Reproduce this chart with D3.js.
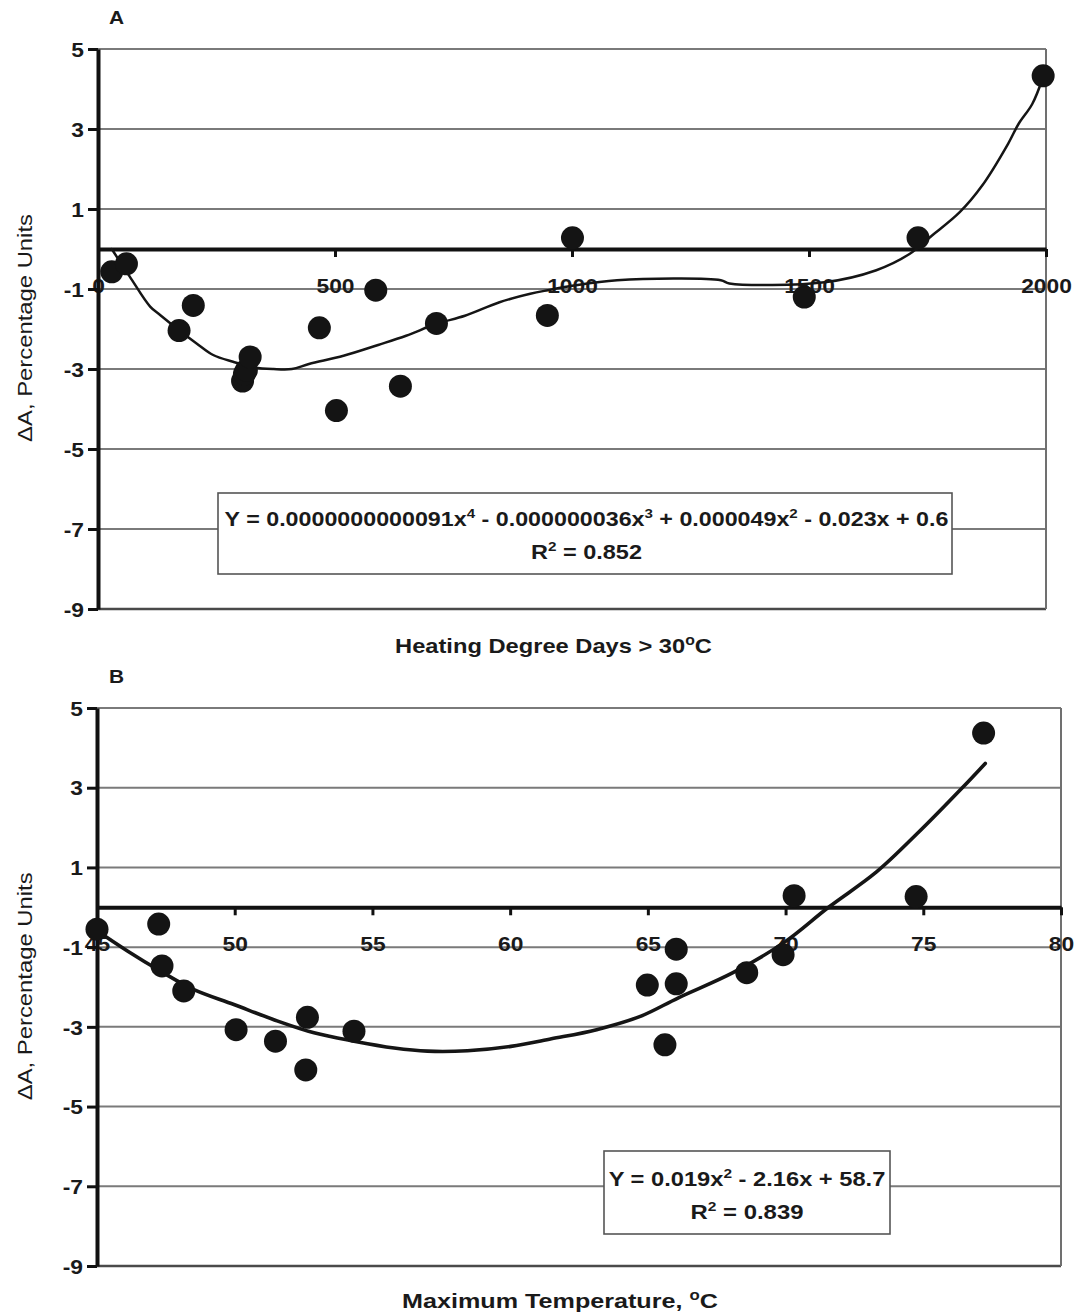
<!DOCTYPE html>
<html>
<head>
<meta charset="utf-8">
<script src="https://cdn.jsdelivr.net/npm/d3@7"></script>
<style>
  html, body { margin: 0; padding: 0; background: #fff; }
  svg { display: block; }
  text { font-family: "Liberation Sans", Arial, sans-serif; fill: #1a1a1a; }
</style>
</head>
<body>
<svg id="chart" width="1074" height="1316"></svg>
<script>
// ---- Panel A: heating degree days above 30 °C ----
const hddTicks = [0, 500, 1000, 1500, 2000];
const hdd     = [29, 60, 171, 201, 305, 309, 313, 321, 467, 503, 586, 638, 714, 948, 1001, 1490, 1730, 1994];
const dA_hdd  = [-0.57, -0.37, -2.04, -1.41, -3.30, -3.12, -3.03, -2.70, -1.97, -4.04, -1.03, -3.43, -1.86, -1.66, 0.28, -1.20, 0.28, 4.33];
// polynomial trend line traced as drawn
const trendHddX = [29, 67, 110, 131, 171, 208, 243, 285, 330, 370, 409, 445, 518, 591, 650, 714, 774, 847, 912, 949, 1000, 1095, 1314, 1332, 1533, 1642, 1712, 1759, 1818, 1865, 1920, 1942, 1971, 1994];
const trendHddY = [0, -0.69, -1.44, -1.65, -2.03, -2.36, -2.65, -2.82, -2.96, -3.0, -3.0, -2.875, -2.67, -2.4, -2.17, -1.87, -1.67, -1.33, -1.12, -1.03, -0.92, -0.78, -0.78, -0.86, -0.83, -0.53, -0.125, 0.33, 0.92, 1.58, 2.63, 3.125, 3.625, 4.3];
const eqHdd = [["Y = 0.0000000000091x"], ["4", true], [" - 0.000000036x"], ["3", true], [" + 0.000049x"], ["2", true], [" - 0.023x + 0.6"]];
const r2Hdd = "0.852";

// ---- Panel B: maximum temperature ----
const tmaxTicks = [45, 50, 55, 60, 65, 70, 75, 80];
const tmax     = [45.0, 47.24, 47.36, 48.15, 50.05, 51.48, 52.64, 52.58, 54.33, 64.98, 66.03, 66.03, 65.62, 68.59, 69.91, 70.31, 74.74, 77.19];
const dA_tmax  = [-0.55, -0.42, -1.47, -2.10, -3.07, -3.36, -2.76, -4.08, -3.11, -1.95, -1.05, -1.92, -3.45, -1.64, -1.19, 0.29, 0.27, 4.37];
const trendTmaxX = [45, 46.09, 47.3, 48.5, 49.97, 51.42, 52.88, 54.33, 55.79, 57.0, 58.45, 60.03, 61.5, 63.14, 64.75, 66.11, 68.09, 69.95, 71.56, 73.29, 74.78, 76.39, 77.25];
const trendTmaxY = [-0.59, -1.09, -1.6, -2.06, -2.44, -2.82, -3.15, -3.36, -3.53, -3.61, -3.6, -3.49, -3.3, -3.07, -2.73, -2.27, -1.64, -0.88, 0, 0.88, 1.85, 2.98, 3.61];
const eqTmax = [["Y = 0.019x"], ["2", true], [" - 2.16x + 58.7"]];
const r2Tmax = "0.839";

const yTicks = [5, 3, 1, -1, -3, -5, -7, -9];
const yTitle = "ΔA, Percentage Units";

const svg = d3.select("#chart");

// stretch a text element horizontally (in its own frame) to a given width
function placeText(t, x, y, target, opts = {}) {
  const w = t.node().getComputedTextLength();
  const sx = target ? target / w : (opts.sx || 1);
  t.attr("transform", `translate(${x},${y})${opts.rotate ? " rotate(-90)" : ""} scale(${sx},1)`);
}

// text runs with optional superscripts
function addRich(t, parts, supSize) {
  let shift = 0;
  parts.forEach(([str, sup]) => {
    const level = sup ? -8 : 0;
    t.append("tspan")
      .attr("dy", level - shift || null)
      .style("font-size", sup ? supSize + "px" : null)
      .text(str);
    shift = level;
  });
}

function panel(cfg) {
  const x = d3.scaleLinear().domain(cfg.xDomain).range(cfg.xRange);
  const y = d3.scaleLinear().domain([-9, 5]).range(cfg.yRange);
  const g = svg.append("g");
  const [x0, x1] = cfg.xRange;
  const y0 = y(0);
  const fmt = d => String(d);

  // horizontal gridlines
  g.selectAll("line.grid").data(yTicks.filter(v => v !== -9)).join("line")
    .attr("x1", x0).attr("x2", x1)
    .attr("y1", d => y(d)).attr("y2", d => y(d))
    .attr("stroke", "#7a7a7a").attr("stroke-width", 2);
  // bottom and right plot borders
  g.append("line").attr("x1", x0).attr("x2", x1).attr("y1", y(-9)).attr("y2", y(-9))
    .attr("stroke", "#4a4a4a").attr("stroke-width", 2.5);
  g.append("line").attr("x1", x1).attr("x2", x1).attr("y1", y(5)).attr("y2", y(-9))
    .attr("stroke", "#707070").attr("stroke-width", 2);

  // x axis along the zero line
  const xAxis = g.append("g").attr("transform", `translate(0,${y0})`)
    .call(d3.axisBottom(x).tickValues(cfg.xTicks).tickSize(8).tickSizeOuter(0).tickFormat(fmt));
  xAxis.select(".domain").attr("stroke", "#111").attr("stroke-width", 4);
  xAxis.selectAll(".tick line").attr("stroke", "#111").attr("stroke-width", 3);
  xAxis.selectAll(".tick text")
    .attr("y", 0).attr("dy", null)
    .style("font-size", "20px").style("font-weight", "bold").attr("fill", "#1a1a1a")
    .attr("transform", "translate(0,44) scale(1.14,1)");

  // y axis
  const yAxis = g.append("g").attr("transform", `translate(${x0},0)`)
    .call(d3.axisLeft(y).tickValues(yTicks).tickSize(10).tickSizeOuter(0).tickFormat(fmt));
  yAxis.select(".domain").attr("stroke", "#111").attr("stroke-width", 4);
  yAxis.selectAll(".tick line").attr("stroke", "#111").attr("stroke-width", 3);
  yAxis.selectAll(".tick text")
    .attr("x", 0).attr("dy", "0.36em")
    .style("font-size", "20px").style("font-weight", "bold").attr("fill", "#1a1a1a")
    .attr("transform", "translate(-14,0) scale(1.14,1)");

  // trend line
  const line = d3.line().x(d => x(d[0])).y(d => y(d[1])).curve(d3.curveCatmullRom.alpha(0.5));
  g.append("path").datum(d3.zip(cfg.trendX, cfg.trendY))
    .attr("d", line).attr("fill", "none")
    .attr("stroke", "#151515").attr("stroke-width", cfg.trendWidth)
    .attr("stroke-linejoin", "round").attr("stroke-linecap", "round");

  // observations
  g.selectAll("circle.obs").data(d3.zip(cfg.xs, cfg.ys)).join("circle")
    .attr("cx", d => x(d[0])).attr("cy", d => y(d[1])).attr("r", 11.5)
    .attr("fill", "#141414");

  // equation box
  const b = cfg.box;
  g.append("rect").attr("x", b.x).attr("y", b.y).attr("width", b.w).attr("height", b.h)
    .attr("fill", "#fff").attr("stroke", "#555").attr("stroke-width", 1.6);
  const eq = g.append("text").attr("text-anchor", "middle")
    .style("font-size", "20px").style("font-weight", "bold");
  addRich(eq, cfg.eq, 13);
  placeText(eq, b.cx, b.eqY, b.eqW);
  const r2 = g.append("text").attr("text-anchor", "middle")
    .style("font-size", "20px").style("font-weight", "bold");
  addRich(r2, [["R"], ["2", true], [" = " + cfg.r2]], 13);
  placeText(r2, b.cx, b.r2Y, b.r2W);

  // axis titles
  const xt = g.append("text").attr("text-anchor", "middle")
    .style("font-size", "21px").style("font-weight", "bold");
  addRich(xt, cfg.xTitle, 14);
  placeText(xt, cfg.xTitlePos[0], cfg.xTitlePos[1], cfg.xTitlePos[2]);

  const yt = g.append("text").attr("text-anchor", "middle")
    .style("font-size", "21px").text(yTitle);
  placeText(yt, 31.5, y0 + 79, 228, { rotate: true });

  // panel letter
  const lt = g.append("text").attr("text-anchor", "middle")
    .style("font-size", "19px").style("font-weight", "bold").text(cfg.letter);
  placeText(lt, 116.5, cfg.letterY, null, { sx: 1.1 });
}

panel({
  letter: "A", letterY: 24,
  xDomain: [0, 2000], xRange: [98, 1046], yRange: [609, 49],
  xTicks: hddTicks, xs: hdd, ys: dA_hdd,
  trendX: trendHddX, trendY: trendHddY, trendWidth: 2.5,
  eq: eqHdd, r2: r2Hdd,
  box: { x: 218, y: 493, w: 734, h: 81, cx: 586.5, eqY: 526, eqW: 724, r2Y: 559, r2W: 111 },
  xTitle: [["Heating Degree Days > 30"], ["o", true], ["C"]],
  xTitlePos: [553.5, 653, 317]
});

panel({
  letter: "B", letterY: 683,
  xDomain: [45, 80], xRange: [97, 1061], yRange: [1266, 708],
  xTicks: tmaxTicks, xs: tmax, ys: dA_tmax,
  trendX: trendTmaxX, trendY: trendTmaxY, trendWidth: 3.6,
  eq: eqTmax, r2: r2Tmax,
  box: { x: 604, y: 1151, w: 286, h: 83, cx: 747, eqY: 1186, eqW: 277, r2Y: 1219, r2W: 113 },
  xTitle: [["Maximum Temperature, "], ["o", true], ["C"]],
  xTitlePos: [560, 1308, 316]
});
</script>
</body>
</html>
